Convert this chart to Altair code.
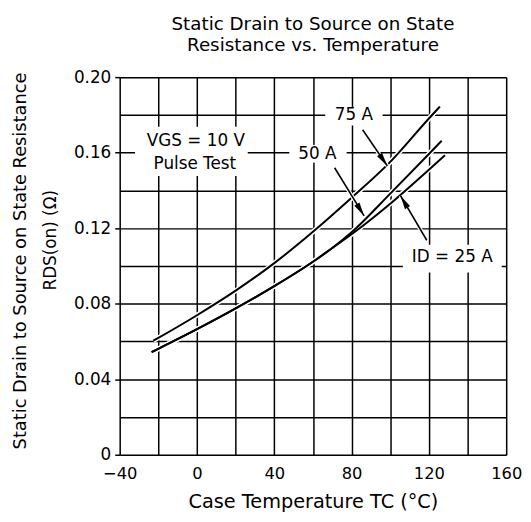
import math
import altair as alt
import pandas as pd

# ---------------- data ----------------
temp_75 = [-22.6, -20, 0, 20, 40, 60, 80, 100, 120, 125.7]
res_75 = [0.0604, 0.0619, 0.0739, 0.0869, 0.1015, 0.1181, 0.1361, 0.1551, 0.1781, 0.1844]

temp_50 = [-23.5, -20, 0, 20, 40, 60, 70, 80, 100, 120, 126.6]
res_50 = [0.0543, 0.0561, 0.0665, 0.0775, 0.0893, 0.1022, 0.1095, 0.1178, 0.1383, 0.1593, 0.1663]

temp_25 = [-23.5, -20, 0, 20, 40, 60, 70, 80, 100, 120, 128.3]
res_25 = [0.0543, 0.0561, 0.0665, 0.0775, 0.0893, 0.1022, 0.1095, 0.1168, 0.1330, 0.1510, 0.1586]

x_ticks = [-40, -20, 0, 20, 40, 60, 80, 100, 120, 140, 160]
y_ticks = [0, 0.02, 0.04, 0.06, 0.08, 0.10, 0.12, 0.14, 0.16, 0.18, 0.20]

# annotation labels (anchor in data units)
label_text = ["75 A", "50 A", "ID = 25 A", "VGS = 10 V", "Pulse Test"]
label_T = [81.2, 62.3, 132.1, -0.6, -1.1]
label_R = [0.1801, 0.1592, 0.1047, 0.1660, 0.1539]

# white boxes behind labels (centre in data units)
box_T = [81.2, 62.6, 132.1, -2.9]
box_R = [0.1791, 0.1594, 0.1039, 0.1607]

# leader arrows: start -> tip
arrow_T0 = [85.7, 71.2, 118.9]
arrow_R0 = [0.1721, 0.1520, 0.1136]
arrow_T1 = [98.5, 86.5, 105.3]
arrow_R1 = [0.1530, 0.1265, 0.1372]

# ---------------- layout ----------------
W, H = 391, 382
XD = [-40, 160]
YD = [0, 0.2]
box_w = [58, 58, 100, 114]
box_h = [18, 18, 28, 50]

def rect_path(w, h):
    a, b = w / 2, h / 2
    return f"M{-a},{-b}L{a},{-b}L{a},{b}L{-a},{b}Z"

curves = pd.concat([
    pd.DataFrame({"T": temp_75, "R": res_75, "s": "75 A"}),
    pd.DataFrame({"T": temp_50, "R": res_50, "s": "50 A"}),
    pd.DataFrame({"T": temp_25, "R": res_25, "s": "25 A"}),
], ignore_index=True)

labels = pd.DataFrame({"T": label_T, "R": label_R, "txt": label_text})
boxes = pd.DataFrame({"T": box_T, "R": box_R,
                      "shape": [rect_path(w, h) for w, h in zip(box_w, box_h)]})

arrow_rows = []
head_rows = []
for i in range(len(arrow_T0)):
    arrow_rows.append({"T": arrow_T0[i], "R": arrow_R0[i], "a": i, "o": 0})
    arrow_rows.append({"T": arrow_T1[i], "R": arrow_R1[i], "a": i, "o": 1})
    dx = (arrow_T1[i] - arrow_T0[i]) * W / (XD[1] - XD[0])
    dy = -(arrow_R1[i] - arrow_R0[i]) * H / (YD[1] - YD[0])
    ang = math.degrees(math.atan2(dx, -dy)) % 360
    head_rows.append({"T": arrow_T1[i], "R": arrow_R1[i], "ang": ang})
arrows = pd.DataFrame(arrow_rows)
heads = pd.DataFrame(head_rows)

FONT = "DejaVu Sans"

x_axis = alt.Axis(
    values=x_ticks, grid=True, gridColor="black", gridWidth=1.5, gridOpacity=1,
    domain=False, ticks=False, labelPadding=11, labelFontSize=16.5, labelColor="black",
    labelFont=FONT, labelFlush=False, labelOverlap=False,
    labelExpr="round(datum.value) % 40 == 0 ? replace(format(datum.value, 'd'), '-', '\u2212') : ''",
    title="Case Temperature  TC (°C)", titleFontSize=19.5, titleFont=FONT,
    titleFontWeight="normal", titleColor="black", titlePadding=11,
)
y_axis = alt.Axis(
    values=y_ticks, grid=True, gridColor="black", gridWidth=1.5, gridOpacity=1,
    domain=False, ticks=True, tickSize=5, tickWidth=1.5, tickColor="black",
    tickOpacity={"condition": {"test": "round(datum.value * 100) % 4 == 0", "value": 1}, "value": 0},
    labelPadding=4, labelFontSize=17, labelColor="black", labelFont=FONT,
    labelOverlap=False, labelFlush=False,
    labelExpr="round(datum.value * 100) % 4 == 0 ? (datum.value == 0 ? '0' : format(datum.value, '.2f')) : ''",
    title=None,
)

x_enc = alt.X("T:Q", scale=alt.Scale(domain=XD, nice=False, zero=False), axis=x_axis)
y_enc = alt.Y("R:Q", scale=alt.Scale(domain=YD, nice=False, zero=False), axis=y_axis)

halo = alt.Chart(curves).mark_line(color="white", strokeWidth=5, interpolate="monotone").encode(
    x=x_enc, y=y_enc, detail="s:N")
lines = alt.Chart(curves).mark_line(color="black", strokeWidth=2, interpolate="monotone").encode(
    x=x_enc, y=y_enc, detail="s:N")

box_layer = alt.Chart(boxes).mark_point(filled=True, color="white", opacity=1, size=4, strokeWidth=0).encode(
    x=x_enc, y=y_enc, shape=alt.Shape("shape:N", scale=None))

arrow_halo = alt.Chart(arrows).mark_line(color="white", strokeWidth=4).encode(
    x=x_enc, y=y_enc, detail="a:N", order="o:Q")
arrow_lines = alt.Chart(arrows).mark_line(color="black", strokeWidth=1.6).encode(
    x=x_enc, y=y_enc, detail="a:N", order="o:Q")
arrow_heads = alt.Chart(heads).mark_point(
    filled=True, color="black", opacity=1, size=4, strokeWidth=0,
    shape="M0,0L3,14L-3,14Z").encode(
    x=x_enc, y=y_enc, angle=alt.Angle("ang:Q", scale=None))

text_layer = alt.Chart(labels).mark_text(
    fontSize=17, font=FONT, color="black", align="center", baseline="middle").encode(
    x=x_enc, y=y_enc, text="txt:N")

ytitle1 = alt.Chart(pd.DataFrame({"t": ["Static Drain to Source on State Resistance"]})).mark_text(
    fontSize=18, font=FONT, color="black", angle=270, align="center", baseline="middle").encode(
    x=alt.value(-100), y=alt.value(186), text="t:N")
ytitle2 = alt.Chart(pd.DataFrame({"t": ["RDS(on) (Ω)"]})).mark_text(
    fontSize=17, font=FONT, color="black", angle=270, align="center", baseline="middle").encode(
    x=alt.value(-69), y=alt.value(165), text="t:N")

chart = alt.layer(
    halo, lines, box_layer, arrow_halo, arrow_lines, arrow_heads, text_layer, ytitle1, ytitle2
).properties(
    width=W, height=H,
    title=alt.TitleParams(
        text=["Static Drain to Source on State", "Resistance vs. Temperature"],
        fontSize=18.5, font=FONT, fontWeight="normal", color="black",
        anchor="middle", frame="group", offset=14, lineHeight=21,
    ),
    autosize=alt.AutoSizeParams(type="none"),
    padding={"left": 113, "top": 67, "right": 17, "bottom": 57},
).configure_view(stroke="black", strokeWidth=2).configure(font=FONT, background="white")

chart.save("out.html", embed_options={"renderer": "svg", "actions": False})
